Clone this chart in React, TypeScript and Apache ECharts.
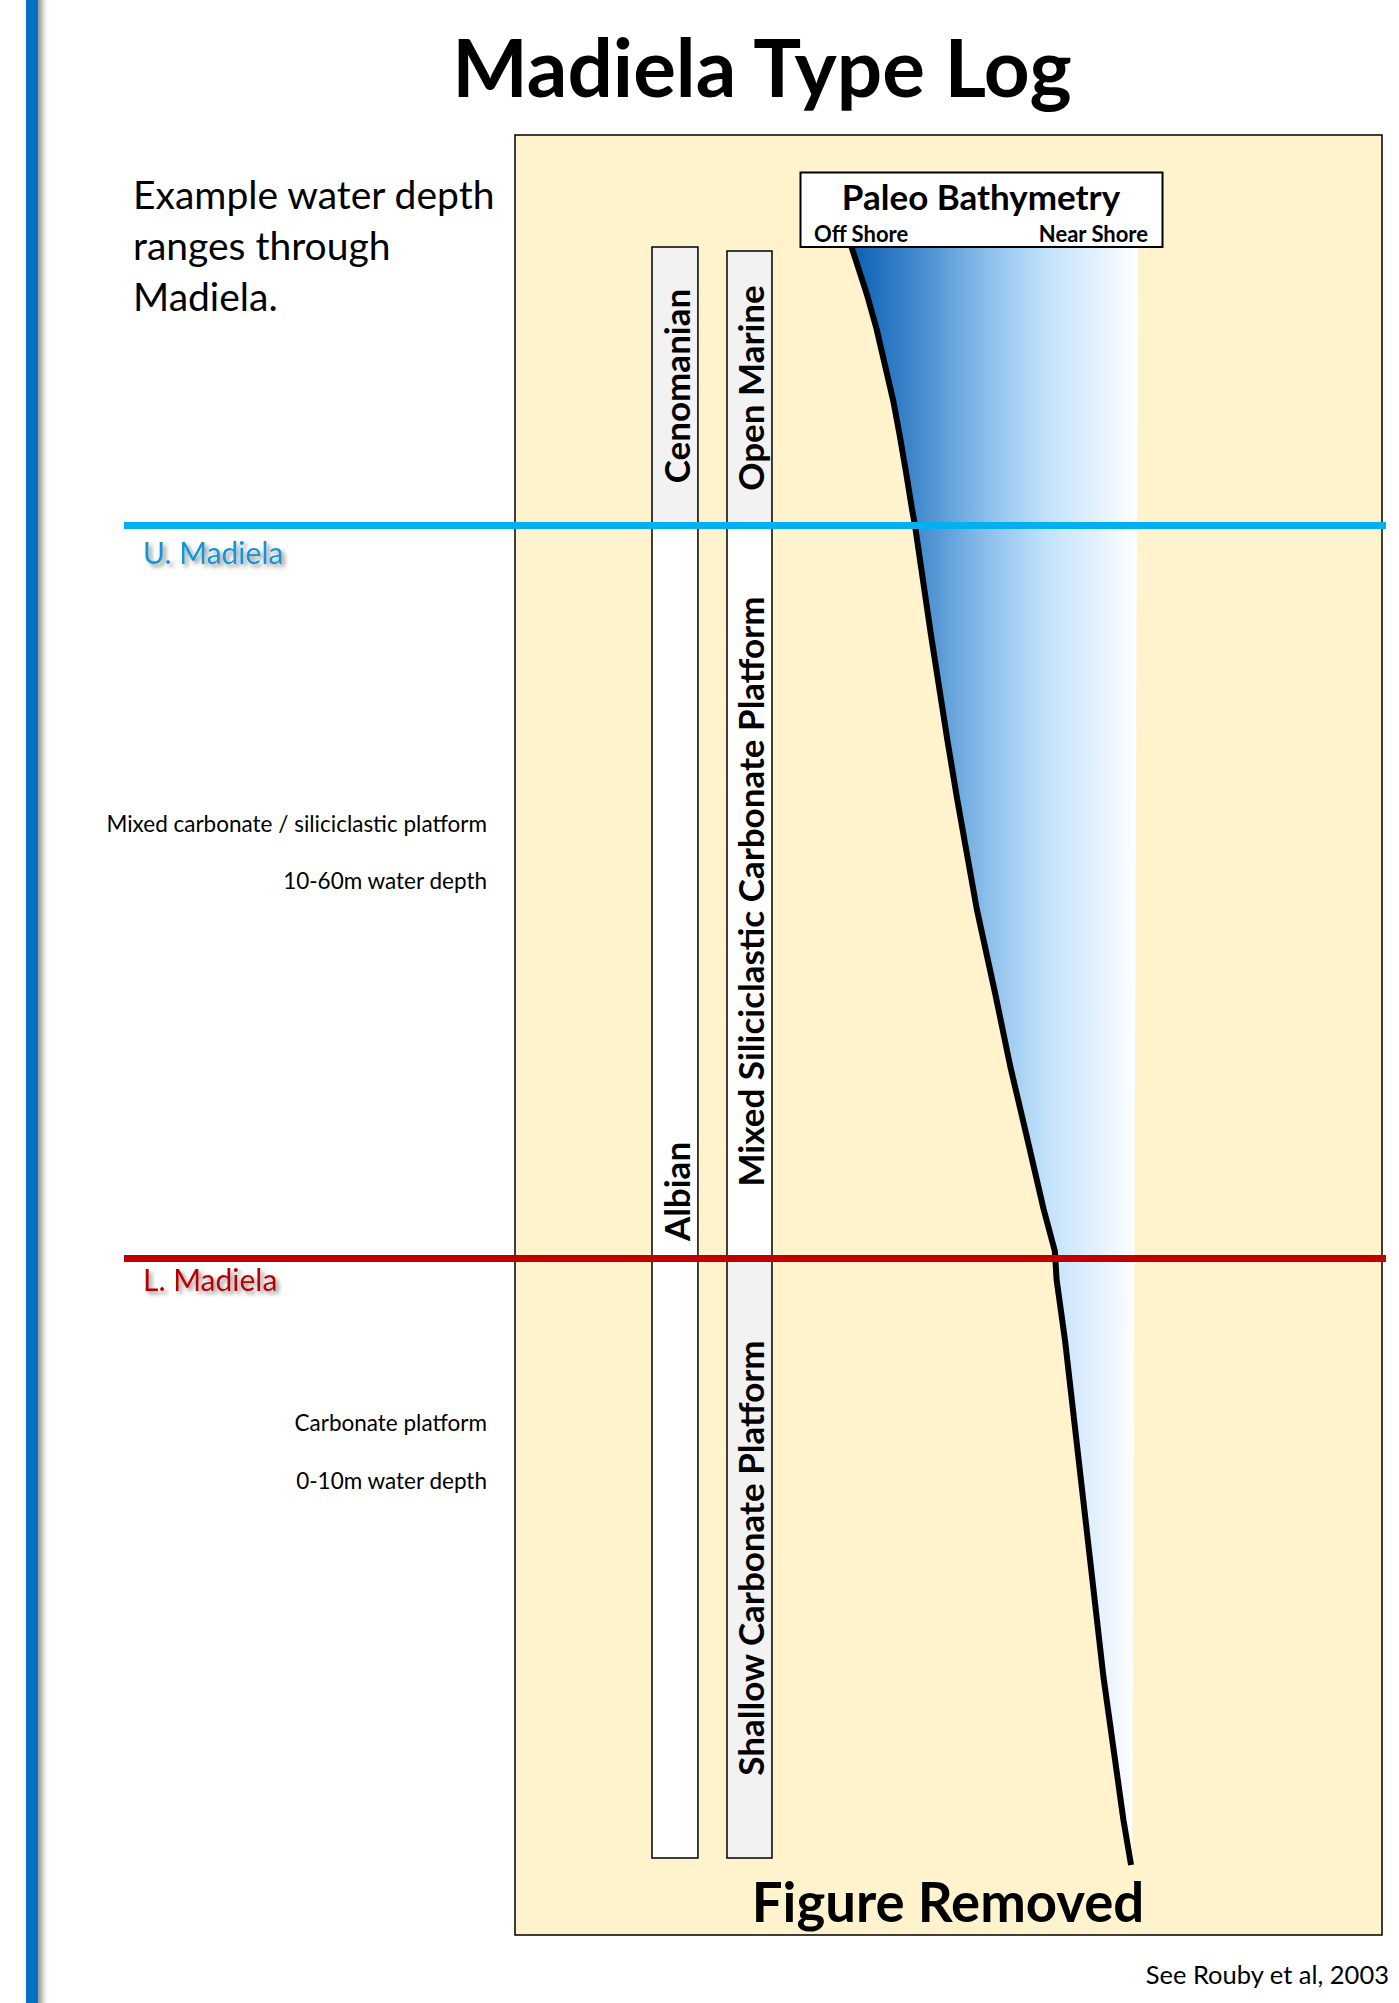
import React, { useEffect, useRef } from "react";
import * as echarts from "echarts";

const FONT = "Lato, 'Open Sans', sans-serif";

// Log depth scale of the panel (log units, increasing downwards)
const DEPTH_MAX = 1800;

// Stratigraphic stages
const stageNames = ["Cenomanian", "Albian"];
const stageTops = [112, 390];
const stageBases = [390, 1723];
const stageFills = ["#F2F2F2", "#FFFFFF"];

// Depositional environments
const environmentNames = [
  "Open Marine",
  "Mixed Siliciclastic Carbonate Platform",
  "Shallow Carbonate Platform",
];
const environmentTops = [116, 390, 1123];
const environmentBases = [390, 1123, 1723];
const environmentFills = ["#F2F2F2", "#FFFFFF", "#F2F2F2"];

// Formation tops
const horizonNames = ["U. Madiela", "L. Madiela"];
const horizonDepths = [390, 1123];
const horizonColors = ["#00B0F0", "#C00000"];
const horizonLabelColors = ["#1595D5", "#B80000"];
const horizonLabelGap = [12, 6];

// Paleo bathymetry curve: 0 = off shore, 100 = near shore
const bathymetryIndex = [
  14.2, 18.4, 21.1, 23.4, 25.7, 27.5, 29.2, 30.8, 31.7, 36.0, 40.6, 43.2, 45.5,
  48.7, 53.8, 57.9, 62.5, 67.1, 70.2, 70.7, 73.0, 78.0, 83.6, 89.1, 91.2,
];
const bathymetryDepth = [
  112, 159, 194, 230, 266, 301, 337, 373, 391, 498, 605, 662, 709, 774, 859,
  931, 1002, 1074, 1116, 1145, 1205, 1364, 1542, 1685, 1730,
];
// Near-shore limit of the shaded bathymetry band
const nearShoreIndex = [93.1, 91.5];
const nearShoreDepth = [112, 1730];

// Zone notes
const zoneNotes = [
  ["Mixed carbonate / siliciclastic platform", "10-60m water depth"],
  ["Carbonate platform", "0-10m water depth"],
];

const PANEL = { left: 515, top: 135, width: 867, height: DEPTH_MAX };
const BATHY = { left: 800, top: 135, width: 363, height: DEPTH_MAX };
const HORIZ = { left: 124, top: 135, width: 1262, height: DEPTH_MAX };

// Track positions inside the panel (percent of panel width)
const STAGE_TRACK = [15.8, 21.1];
const ENV_TRACK = [24.45, 29.64];

function trackSeries(
  names: string[],
  tops: number[],
  bases: number[],
  fills: string[],
  track: number[]
) {
  return {
    type: "custom",
    coordinateSystem: "cartesian2d",
    xAxisIndex: 0,
    yAxisIndex: 0,
    z: 3,
    silent: true,
    data: names.map((_, i) => [tops[i], bases[i]]),
    renderItem: (params: any, api: any) => {
      const i = params.dataIndex;
      const a = api.coord([track[0], api.value(0)]);
      const b = api.coord([track[1], api.value(1)]);
      return {
        type: "group",
        children: [
          {
            type: "rect",
            shape: { x: a[0], y: a[1], width: b[0] - a[0], height: b[1] - a[1] },
            style: { fill: fills[i], stroke: "#000", lineWidth: 1.5 },
          },
          {
            type: "text",
            x: (a[0] + b[0]) / 2 + 1,
            y: (a[1] + b[1]) / 2,
            rotation: Math.PI / 2,
            style: {
              text: names[i],
              font: `bold 35px ${FONT}`,
              fill: "#000",
              align: "center",
              verticalAlign: "middle",
            },
          },
        ],
      };
    },
  };
}

function buildOption(): any {
  const depthAxis = (gridIndex: number) => ({
    type: "value",
    gridIndex,
    min: 0,
    max: DEPTH_MAX,
    inverse: true,
    show: false,
  });
  const trackAxis = (gridIndex: number, max: number) => ({
    type: "value",
    gridIndex,
    min: 0,
    max,
    show: false,
  });

  const bathyGradient = new echarts.graphic.LinearGradient(0, 0, 1, 0, [
    { offset: 0, color: "#0D60B4" },
    { offset: 0.22, color: "#4088CC" },
    { offset: 0.5, color: "#93C4EE" },
    { offset: 0.68, color: "#C2E2FC" },
    { offset: 0.86, color: "#E4F1FE" },
    { offset: 1, color: "#FFFFFF" },
  ]);

  const noteFont = `22.5px ${FONT}`;
  const noteY = [
    [823, 880],
    [1422, 1480],
  ];

  return {
    animation: false,
    backgroundColor: "#FFFFFF",
    grid: [
      {
        ...PANEL,
        show: true,
        backgroundColor: "#FEF3CC",
        borderColor: "#000",
        borderWidth: 1.5,
      },
      { ...BATHY },
      { ...HORIZ },
    ],
    xAxis: [trackAxis(0, 100), trackAxis(1, 100), trackAxis(2, 1)],
    yAxis: [depthAxis(0), depthAxis(1), depthAxis(2)],
    series: [
      trackSeries(stageNames, stageTops, stageBases, stageFills, STAGE_TRACK),
      trackSeries(
        environmentNames,
        environmentTops,
        environmentBases,
        environmentFills,
        ENV_TRACK
      ),
      {
        type: "custom",
        name: "Bathymetry band",
        coordinateSystem: "cartesian2d",
        xAxisIndex: 1,
        yAxisIndex: 1,
        z: 3,
        silent: true,
        data: [[bathymetryIndex[0], bathymetryDepth[0]]],
        renderItem: (_params: any, api: any) => {
          const left = bathymetryIndex.map((b, i) =>
            api.coord([b, bathymetryDepth[i]])
          );
          const right = [
            api.coord([nearShoreIndex[1], nearShoreDepth[1]]),
            api.coord([nearShoreIndex[0], nearShoreDepth[0]]),
          ];
          return {
            type: "polygon",
            shape: { points: [...left, ...right] },
            style: { fill: bathyGradient },
          };
        },
      },
      {
        type: "line",
        name: "Paleo Bathymetry",
        xAxisIndex: 1,
        yAxisIndex: 1,
        z: 4,
        silent: true,
        symbol: "none",
        data: bathymetryIndex.map((b, i) => [b, bathymetryDepth[i]]),
        lineStyle: { color: "#000", width: 6, cap: "butt", join: "round" },
      },
      {
        type: "line",
        name: "Horizons",
        xAxisIndex: 2,
        yAxisIndex: 2,
        z: 6,
        data: [],
        markLine: {
          silent: true,
          symbol: "none",
          animation: false,
          data: horizonNames.map((name, i) => ({
            name,
            yAxis: horizonDepths[i],
            lineStyle: { color: horizonColors[i], width: 7, type: "solid" },
            label: { color: horizonLabelColors[i], distance: [19, horizonLabelGap[i]] },
          })),
          label: {
            show: true,
            position: "insideStartBottom",
            formatter: "{b}",
            fontSize: 30,
            fontFamily: FONT,
            textShadowColor: "rgba(0,0,0,0.45)",
            textShadowBlur: 4,
            textShadowOffsetX: 3,
            textShadowOffsetY: 3,
          },
        },
      },
    ],
    graphic: [
      {
        type: "rect",
        z: 10,
        shape: { x: 26, y: -10, width: 12, height: 2030 },
        style: {
          fill: "#0070C0",
          shadowColor: "rgba(0,0,0,0.45)",
          shadowBlur: 6,
          shadowOffsetX: 4,
        },
      },
      {
        type: "text",
        z: 10,
        x: 762,
        y: 66,
        style: {
          text: "Madiela Type Log",
          font: `bold 80px ${FONT}`,
          fill: "#000",
          align: "center",
          verticalAlign: "middle",
        },
      },
      ...["Example water depth", "ranges through", "Madiela."].map((t, i) => ({
        type: "text",
        z: 10,
        x: 133,
        y: 194 + i * 51,
        style: {
          text: t,
          font: `39px ${FONT}`,
          fill: "#000",
          align: "left",
          verticalAlign: "middle",
        },
      })),
      ...zoneNotes.flatMap((lines, zi) =>
        lines.map((t, li) => ({
          type: "text",
          z: 10,
          x: 487,
          y: noteY[zi][li],
          style: {
            text: t,
            font: noteFont,
            fill: "#000",
            align: "right",
            verticalAlign: "middle",
          },
        }))
      ),
      {
        type: "rect",
        z: 10,
        shape: { x: 800.5, y: 172.5, width: 362, height: 74.5 },
        style: { fill: "#FFFFFF", stroke: "#000", lineWidth: 2 },
      },
      {
        type: "text",
        z: 11,
        x: 981,
        y: 196,
        style: {
          text: "Paleo Bathymetry",
          font: `bold 35px ${FONT}`,
          fill: "#000",
          align: "center",
          verticalAlign: "middle",
        },
      },
      {
        type: "text",
        z: 11,
        x: 814,
        y: 233,
        style: {
          text: "Off Shore",
          font: `bold 22px ${FONT}`,
          fill: "#000",
          align: "left",
          verticalAlign: "middle",
        },
      },
      {
        type: "text",
        z: 11,
        x: 1148,
        y: 233,
        style: {
          text: "Near Shore",
          font: `bold 22px ${FONT}`,
          fill: "#000",
          align: "right",
          verticalAlign: "middle",
        },
      },
      {
        type: "text",
        z: 11,
        x: 948,
        y: 1901,
        style: {
          text: "Figure Removed",
          font: `bold 54.5px ${FONT}`,
          fill: "#000",
          align: "center",
          verticalAlign: "middle",
        },
      },
      {
        type: "text",
        z: 11,
        x: 1389,
        y: 1974,
        style: {
          text: "See Rouby et al, 2003",
          font: `25.5px ${FONT}`,
          fill: "#000",
          align: "right",
          verticalAlign: "middle",
        },
      },
    ],
  };
}

export default function App() {
  const ref = useRef<HTMLDivElement>(null);
  useEffect(() => {
    document.body.style.margin = "0";
    const chart = echarts.init(ref.current!, null, { renderer: "svg" });
    chart.setOption(buildOption());
    return () => chart.dispose();
  }, []);
  return (
    <div
      ref={ref}
      style={{ position: "absolute", left: 0, top: 0, width: 1399, height: 2003 }}
    />
  );
}
